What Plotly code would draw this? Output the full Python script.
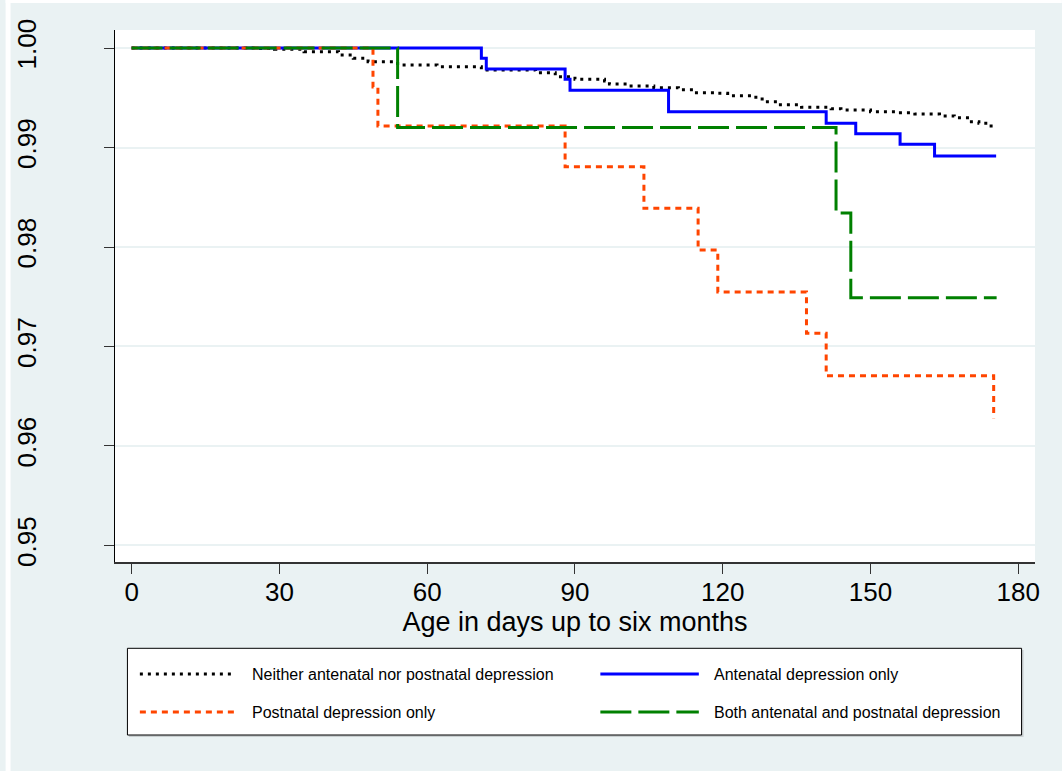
import plotly.graph_objects as go

# ---------------- data ----------------
group_labels = [
    "Neither antenatal nor postnatal depression",
    "Antenatal depression only",
    "Postnatal depression only",
    "Both antenatal and postnatal depression",
]

neither_t = [0, 25, 29, 35, 42, 45, 48, 54, 62, 71, 82, 86, 90, 96, 97, 101, 106,
             111, 114, 119, 121, 126, 128, 131, 136, 142, 144, 150, 155, 159, 164,
             167, 170, 172, 174, 175.3]
neither_s = [1.0, 0.99995, 0.99987, 0.99963, 0.9993, 0.99896, 0.99862, 0.99829,
             0.99812, 0.99779, 0.99752, 0.99712, 0.99685, 0.99668, 0.99638, 0.99618,
             0.99601, 0.99581, 0.99551, 0.99545, 0.99521, 0.99505, 0.9946, 0.9943,
             0.99404, 0.9939, 0.99377, 0.9936, 0.9935, 0.99337, 0.99317, 0.993,
             0.99259, 0.99243, 0.99216, 0.99216]

antenatal_t = [0, 71, 72, 88, 89, 109, 141, 147, 156, 163, 175.5]
antenatal_s = [1.0, 0.99896, 0.99789, 0.99685, 0.99575, 0.99360, 0.99243, 0.99139,
               0.99032, 0.98915, 0.98915]

postnatal_t = [0, 49, 50, 88, 104, 115, 119, 137, 141, 175]
postnatal_s = [1.0, 0.99608, 0.99216, 0.98807, 0.98389, 0.97970, 0.97548, 0.97133,
               0.96707, 0.96278]

both_t = [0, 54, 143, 146, 175.6]
both_s = [1.0, 0.99200, 0.98342, 0.97490, 0.97490]

x_ticks = [0, 30, 60, 90, 120, 150, 180]
y_ticks = [0.95, 0.96, 0.97, 0.98, 0.99, 1.00]
x_title = "Age in days up to six months"

# ---------------- styles ----------------
colors = ["black", "#0000FF", "#FF4500", "#008000"]
dashes = ["3px,5px", "solid", "6px,5px", "31px,7px"]
widths = [3, 3, 3, 3]
series = [(neither_t, neither_s), (antenatal_t, antenatal_s),
          (postnatal_t, postnatal_s), (both_t, both_s)]

BG = "#EAF2F3"
FONT = "Liberation Sans, Arial, Helvetica, sans-serif"
W, H = 1062, 771
ML, MR, MT, MB = 110, 27, 30, 209
PW, PH = W - ML - MR, H - MT - MB


def px(xp):
    return (xp - ML) / PW


def py(yp):
    return (H - MB - yp) / PH


fig = go.Figure()
for (t, s), name, c, d, w in zip(series, group_labels, colors, dashes, widths):
    fig.add_trace(go.Scatter(x=t, y=s, mode="lines", name=name, showlegend=False,
                             line=dict(shape="hv", color=c, dash=d, width=w)))

shapes = [
    # white frame strips at top/left edge of the image
    dict(type="rect", xref="paper", yref="paper", x0=px(0), x1=px(W), y0=py(3), y1=py(0),
         fillcolor="white", line=dict(width=0), layer="above"),
    dict(type="rect", xref="paper", yref="paper", x0=px(0), x1=px(5), y0=py(H), y1=py(0),
         fillcolor="white", line=dict(width=0), layer="above"),
    # legend box shadow + box
    dict(type="rect", xref="paper", yref="paper", x0=px(124), x1=px(1023.5),
         y0=py(737), y1=py(650), fillcolor="#c9cfd0", line=dict(width=0), layer="above"),
    dict(type="rect", xref="paper", yref="paper", x0=px(122.5), x1=px(1021.5),
         y0=py(735), y1=py(648.3), fillcolor="white", line=dict(color="black", width=1),
         layer="above"),
]

# legend samples + labels (2 columns x 2 rows)
leg_pos = [(135, 230, 246, 674), (598, 697, 710, 674), (135, 230, 246, 712), (598, 697, 710, 712)]
annotations = []
for (x0, x1, xt, yy), name, c, d, w in zip(leg_pos, group_labels, colors, dashes, widths):
    shapes.append(dict(type="line", xref="paper", yref="paper", x0=px(x0), x1=px(x1),
                       y0=py(yy), y1=py(yy), line=dict(color=c, width=w, dash=d),
                       layer="above"))
    annotations.append(dict(xref="paper", yref="paper", x=px(xt), y=py(yy), text=name,
                            showarrow=False, xanchor="left", yanchor="middle",
                            font=dict(family=FONT, size=16, color="black")))

fig.update_layout(
    width=W, height=H,
    margin=dict(l=ML, r=MR, t=MT, b=MB, pad=0),
    paper_bgcolor=BG, plot_bgcolor="white",
    font=dict(family=FONT, color="black"),
    shapes=shapes, annotations=annotations,
    showlegend=False,
)
fig.update_xaxes(
    range=[-3.372, 183.39], tickmode="array", tickvals=x_ticks,
    ticktext=[str(v) for v in x_ticks], showgrid=False, zeroline=False,
    showline=True, linecolor="#333333", linewidth=1.5, mirror=False,
    ticks="outside", ticklen=10, tickwidth=1, tickcolor="#333333",
    tickfont=dict(family=FONT, size=26, color="black"), ticklabelstandoff=-4,
    title=dict(text=x_title, font=dict(family=FONT, size=27, color="black"), standoff=0),
)
fig.update_yaxes(
    range=[0.94834, 1.00181], tickmode="array", tickvals=y_ticks,
    ticktext=["%.2f" % v for v in y_ticks], showgrid=True, gridcolor=BG, gridwidth=2,
    zeroline=False, showline=True, linecolor="black", linewidth=1,
    ticks="outside", ticklen=10, tickwidth=1, tickcolor="#333333", tickangle=-90,
    tickfont=dict(family=FONT, size=26, color="black"), ticklabelstandoff=58,
)

fig.write_html("out.html")
